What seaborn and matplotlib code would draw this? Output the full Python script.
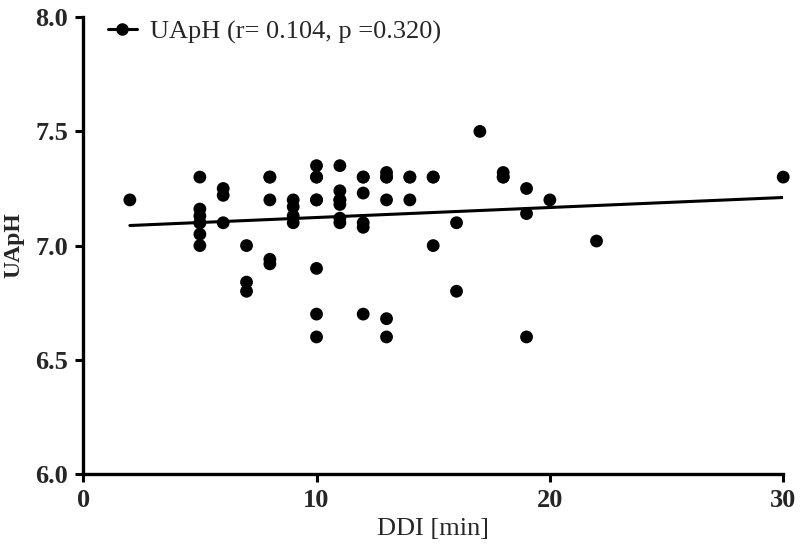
import matplotlib
matplotlib.use("Agg")
import matplotlib.pyplot as plt
import seaborn as sns
import pandas as pd
from matplotlib.lines import Line2D

# DDI [min] and UApH readings (some points sit on top of each other)
ddi = [2,
       5, 5, 5, 5, 5, 5, 5,
       6, 6, 6,
       7, 7, 7,
       8, 8, 8, 8, 8,
       9, 9, 9, 9,
       10, 10, 10, 10, 10, 10, 10, 10,
       11, 11, 11, 11, 11, 11, 11,
       12, 12, 12, 12, 12, 12,
       13, 13, 13, 13, 13, 13,
       14, 14, 14,
       15, 15, 15,
       16, 16,
       17,
       18, 18, 18,
       19, 19, 19,
       20,
       22,
       30]
uaph = [7.20,
        7.30, 7.16, 7.13, 7.10, 7.10, 7.05, 7.00,
        7.25, 7.22, 7.10,
        7.00, 6.84, 6.80,
        7.30, 7.30, 7.20, 6.94, 6.92,
        7.20, 7.17, 7.13, 7.10,
        7.35, 7.30, 7.30, 7.20, 7.20, 6.90, 6.70, 6.60,
        7.35, 7.24, 7.20, 7.20, 7.18, 7.12, 7.10,
        7.30, 7.30, 7.23, 7.10, 7.08, 6.70,
        7.32, 7.30, 7.30, 7.20, 6.68, 6.60,
        7.30, 7.30, 7.20,
        7.30, 7.30, 7.00,
        7.10, 6.80,
        7.50,
        7.32, 7.30, 7.30,
        7.25, 7.14, 6.60,
        7.20,
        7.02,
        7.30]
legend_label = "UApH (r= 0.104, p =0.320)"
x_ticks = [0, 10, 20, 30]
y_ticks = [6.0, 6.5, 7.0, 7.5, 8.0]

df = pd.DataFrame({"DDI": ddi, "UApH": uaph})

sns.set_style("ticks")
plt.rcParams["font.family"] = ["Liberation Serif", "DejaVu Serif"]

fig = plt.figure(figsize=(8, 5.55), dpi=100)
ax = fig.add_axes([0.104, 0.146, 0.875, 0.823])

sns.regplot(data=df, x="DDI", y="UApH", ax=ax, ci=None, color="black",
            scatter_kws={"s": 85, "alpha": 1, "edgecolor": "none"},
            line_kws={"linewidth": 2.2})

ax.set_xlim(0, 30)
ax.set_ylim(6.0, 8.0)
ax.set_xticks(x_ticks)
ax.set_yticks(y_ticks)
ax.set_yticklabels([f"{v:.1f}" for v in y_ticks])
for lab in ax.get_xticklabels() + ax.get_yticklabels():
    lab.set_fontweight("bold")
ax.tick_params(axis="both", labelsize=19, width=2.2, length=6, pad=5, color="black")

ax.set_xlabel("DDI [min]", fontsize=19, labelpad=4)
ax.set_ylabel("UApH", fontsize=17, fontweight="bold", labelpad=8)

sns.despine(ax=ax)
for side in ["left", "bottom"]:
    ax.spines[side].set_linewidth(2.4)
    ax.spines[side].set_color("black")
for coll in ax.collections:
    coll.set_clip_on(False)

handle = Line2D([], [], color="black", marker="o", markersize=8, linewidth=2.2)
ax.legend([handle], [legend_label], loc="upper left", frameon=False,
          fontsize=19, handlelength=1.1, handletextpad=0.5,
          bbox_to_anchor=(0.009, 1.035), borderaxespad=0.3)

fig.savefig("out.png", dpi=100)
